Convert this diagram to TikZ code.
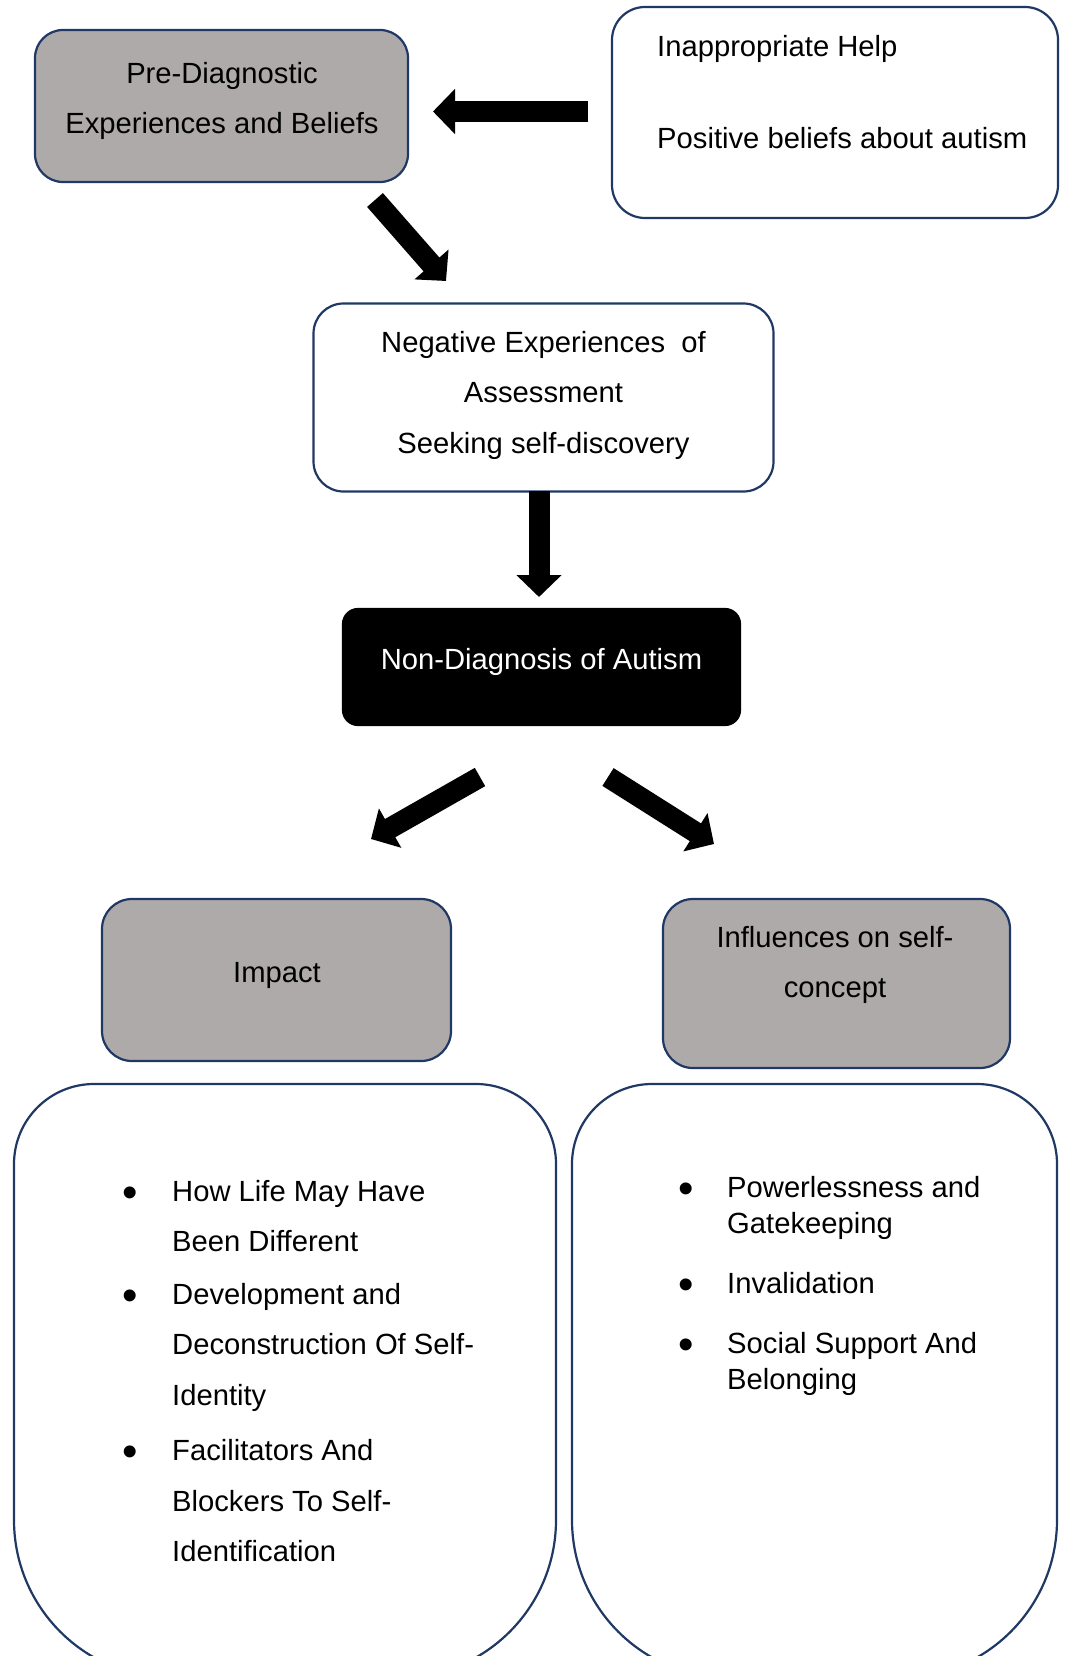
\documentclass[tikz,border=0pt]{standalone}
\usepackage{fontspec}
\setmainfont{Liberation Sans}
\usetikzlibrary{arrows.meta}
\definecolor{navy}{RGB}{32,56,100}
\definecolor{boxgray}{RGB}{174,170,170}
\begin{document}
\begin{tikzpicture}[x=1pt,y=-1pt,
  box/.style={draw=navy, line width=2.2pt, rounded corners=#1, inner sep=0pt},
  edge/.style={draw=navy, line width=2.2pt},
  txt/.style={inner sep=0pt, anchor=base, font=\fontsize{29.2}{35}\selectfont},
  ltxt/.style={txt, anchor=base west},
  bul/.style={inner sep=0pt, anchor=base, font=\fontsize{44}{44}\selectfont},
  bigarrow/.style={line width=21pt, -{Triangle[length=22pt, width=44pt]}}]
\path[use as bounding box, clip] (0,0) rectangle (1065,1656);
\fill[white] (0,0) rectangle (1065,1656);

% boxes
\node[box=28, fill=boxgray, minimum width=373pt, minimum height=152pt] (pre) at (221.5,106) {};
\node[box=33, fill=white, minimum width=446pt, minimum height=211pt] (help) at (835,112.5) {};
\node[box=30, fill=white, minimum width=460pt, minimum height=188pt] (neg) at (543.5,397.5) {};
\node[box=15, fill=black, draw=black, minimum width=397pt, minimum height=116pt] (non) at (541.5,667) {};
\node[box=30, fill=boxgray, minimum width=349pt, minimum height=162pt] (imp) at (276.5,980) {};
\node[box=30, fill=boxgray, minimum width=347pt, minimum height=169pt] (inf) at (836.5,983.5) {};

% big bottom boxes
\draw[edge] (14,1520) -- (14,1164) arc[start angle=180,end angle=270,radius=80]
  -- (476,1084) arc[start angle=270,end angle=360,radius=80]
  -- (556,1520) arc[start angle=0,end angle=90,radius=158]
  -- (172,1678) arc[start angle=90,end angle=180,radius=158] -- cycle;
\draw[edge] (572,1520) -- (572,1164) arc[start angle=180,end angle=270,radius=80]
  -- (977,1084) arc[start angle=270,end angle=360,radius=80]
  -- (1057,1520) arc[start angle=0,end angle=90,radius=158]
  -- (730,1678) arc[start angle=90,end angle=180,radius=158] -- cycle;

% texts
\node[txt] (pre1) at (222,84) {Pre-Diagnostic};
\node[txt] (pre2) at (222,134) {Experiences and Beliefs};
\node[ltxt] (help1) at (657,57) {Inappropriate Help};
\node[ltxt] (help2) at (657,149) {Positive beliefs about autism};
\node[txt] (neg1) at (543.5,352) {Negative Experiences\ \ of};
\node[txt] (neg2) at (543.5,402) {Assessment};
\node[txt] (neg3) at (543.5,453) {Seeking self-discovery};
\node[txt, text=white] (non1) at (541.5,669) {Non-Diagnosis of Autism};
\node[txt] (imp1) at (277,982) {Impact};
\node[txt] (inf1) at (835,947) {Influences on self-};
\node[txt] (inf2) at (835,997) {concept};

% left list
\node[bul] (lb1) at (130,1207) {•};
\node[ltxt] (l1) at (172,1201) {How Life May Have};
\node[ltxt] (l2) at (172,1251) {Been Different};
\node[bul] (lb2) at (130,1310) {•};
\node[ltxt] (l3) at (172,1304) {Development and};
\node[ltxt] (l4) at (172,1354) {Deconstruction Of Self-};
\node[ltxt] (l5) at (172,1405) {Identity};
\node[bul] (lb3) at (130,1466) {•};
\node[ltxt] (l6) at (172,1460) {Facilitators And};
\node[ltxt] (l7) at (172,1511) {Blockers To Self-};
\node[ltxt] (l8) at (172,1561) {Identification};

% right list
\node[bul] (rb1) at (686,1203) {•};
\node[ltxt] (r1) at (727,1197) {Powerlessness and};
\node[ltxt] (r2) at (727,1233) {Gatekeeping};
\node[bul] (rb2) at (686,1299) {•};
\node[ltxt] (r3) at (727,1293) {Invalidation};
\node[bul] (rb3) at (686,1359) {•};
\node[ltxt] (r4) at (727,1353) {Social Support And};
\node[ltxt] (r5) at (727,1389) {Belonging};

% arrows
\coordinate (a1s) at (588,111.5);
\coordinate (a1e) at (433,111.5);
\coordinate (a2s) at (375,200);
\coordinate (a2e) at (446,281);
\coordinate (a3s) at (539,491);
\coordinate (a3e) at (539,597);
\coordinate (a4s) at (480,777);
\coordinate (a4e) at (371,839);
\coordinate (a5s) at (608,777);
\coordinate (a5e) at (714,844);
\draw[bigarrow] (a1s) -- (a1e);
\draw[bigarrow] (a2s) -- (a2e);
\draw[bigarrow] (a3s) -- (a3e);
\draw[bigarrow] (a4s) -- (a4e);
\draw[bigarrow] (a5s) -- (a5e);
\end{tikzpicture}
\end{document}
